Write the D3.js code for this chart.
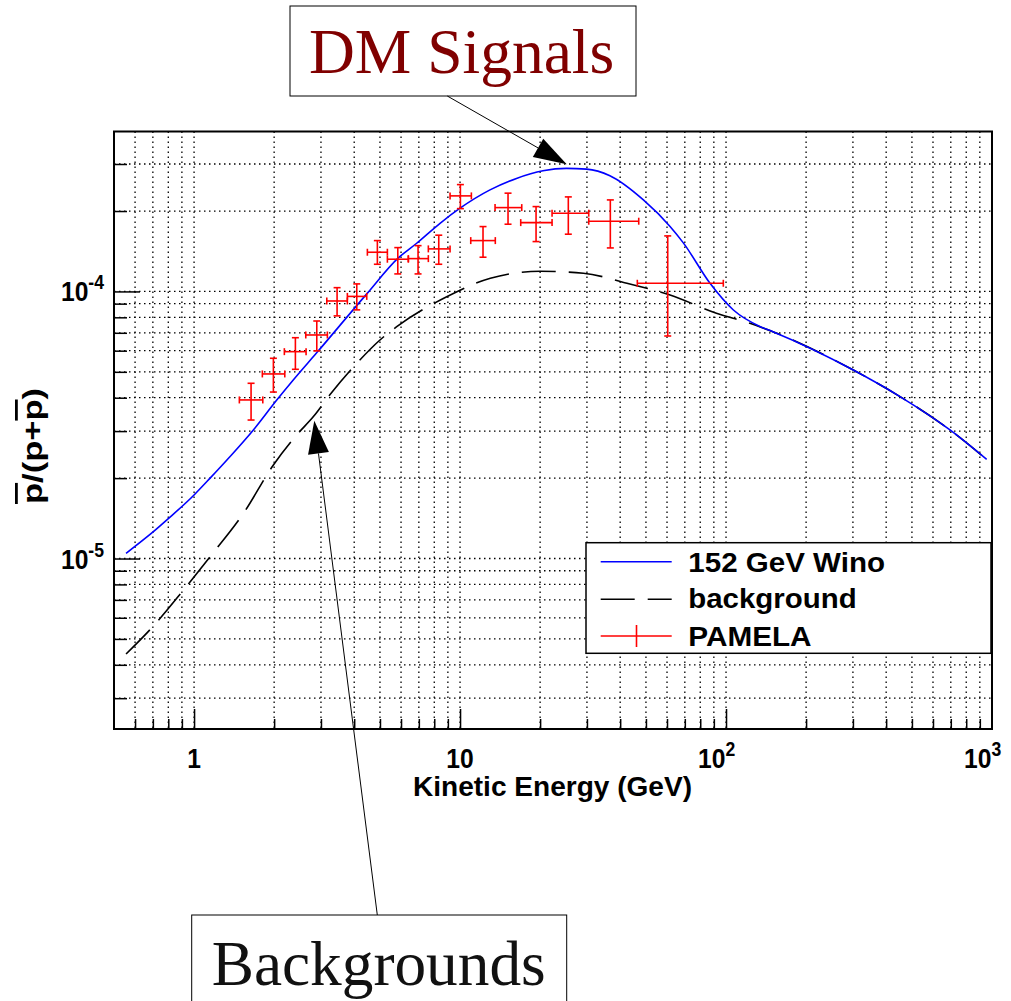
<!DOCTYPE html>
<html><head><meta charset="utf-8">
<script src="https://cdn.jsdelivr.net/npm/d3@7"></script>
<style>html,body{margin:0;padding:0;background:#fff;}svg{display:block;}</style>
</head><body>
<script>
// ---------- data ----------
const winoE = [0.555,0.703,0.80,1.0,1.149,1.366,1.671,2.046,2.36,2.89,4.46,5.86,6.87,8.41,10.0,12.96,16.3,20.5,25.1,29.9,36.6,48.9,61.6,69.1,87.2,106.6,134.6,150,301,451,695,955];
const winoR = [1.046e-5,1.26e-5,1.41e-5,1.73e-5,2.0e-5,2.41e-5,3.03e-5,3.92e-5,4.66e-5,5.89e-5,9.79e-5,1.335e-4,1.515e-4,1.80e-4,2.05e-4,2.40e-4,2.65e-4,2.83e-4,2.89e-4,2.87e-4,2.71e-4,2.20e-4,1.75e-4,1.52e-4,1.07e-4,8.52e-5,7.38e-5,7.07e-5,5.08e-5,4.04e-5,3.03e-5,2.35e-5];
const bgE = [0.555,0.703,0.912,1.149,1.533,1.987,2.43,2.81,3.24,4.09,5.0,5.78,8.91,13.0,20.0,29.1,42.4,61.6,92.0,123,150,301,451,695,955];
const bgR = [4.39e-6,5.59e-6,7.62e-6,1.016e-5,1.476e-5,2.24e-5,2.90e-5,3.40e-5,4.10e-5,5.38e-5,6.58e-5,7.38e-5,9.55e-5,1.12e-4,1.19e-4,1.17e-4,1.073e-4,9.70e-5,8.29e-5,7.60e-5,7.07e-5,5.08e-5,4.04e-5,3.03e-5,2.35e-5];
const pamE   = [1.638,1.987,2.404,2.893,3.449,4.090,4.888,5.833,6.952,8.317,10.03,12.20,15.15,19.31,25.53,36.73,60.37];
const pamELo = [1.480,1.806,2.185,2.630,3.155,3.770,4.483,5.331,6.392,7.600,9.172,10.97,13.54,16.91,22.18,30.47,46.40];
const pamEHi = [1.813,2.193,2.637,3.171,3.770,4.459,5.331,6.392,7.600,9.172,11.03,13.57,17.06,22.18,30.47,46.97,97.68];
const pamR   = [3.924e-5,4.91e-5,5.95e-5,6.87e-5,9.21e-5,9.58e-5,1.402e-4,1.320e-4,1.327e-4,1.443e-4,2.279e-4,1.550e-4,2.060e-4,1.810e-4,1.963e-4,1.832e-4,1.073e-4];
const pamRLo = [3.30e-5,4.20e-5,5.11e-5,5.99e-5,8.10e-5,8.53e-5,1.264e-4,1.163e-4,1.163e-4,1.264e-4,2.042e-4,1.343e-4,1.785e-4,1.537e-4,1.638e-4,1.455e-4,6.81e-5];
const pamRHi = [4.53e-5,5.62e-5,6.71e-5,7.75e-5,1.033e-4,1.067e-4,1.550e-4,1.459e-4,1.484e-4,1.624e-4,2.512e-4,1.749e-4,2.333e-4,2.078e-4,2.259e-4,2.201e-4,1.614e-4];
const xMajorTicks = [1,10,100,1000];
const xTickLabels = ["1","10","10|2","10|3"];
const yMajorTicks = [1e-5,1e-4];
const yTickLabels = ["10|-5","10|-4"];
const legendLabels = ["152 GeV Wino","background","PAMELA"];

// ---------- layout ----------
const W=1011,H=1001, L=114,R=992,T=131.5,B=729;
const svg=d3.select("body").append("svg").attr("width",W).attr("height",H);
svg.append("rect").attr("width",W).attr("height",H).attr("fill","#fff");
const x=d3.scaleLog().domain([0.5,1000]).range([L,R]);
const y=d3.scaleLog().domain([2.3e-6,3.97e-4]).range([B,T]);
const sans="'Liberation Sans', Arial, Helvetica, sans-serif";
const serif="'Liberation Serif', 'Times New Roman', serif";

// grid
const xt=x.ticks().filter(v=>x(v)>L+1&&x(v)<R-1);
const yt=y.ticks().filter(v=>y(v)<B-1&&y(v)>T+1);
const grid=svg.append("g").attr("stroke","#000").attr("stroke-width",1.3).attr("stroke-dasharray","1.5,3.5");
grid.selectAll(".gx").data(xt).join("line").attr("x1",d=>x(d)).attr("x2",d=>x(d)).attr("y1",T).attr("y2",B);
grid.selectAll(".gy").data(yt).join("line").attr("y1",d=>y(d)).attr("y2",d=>y(d)).attr("x1",L).attr("x2",R);

// axes ticks (inside)
const isMajor=v=>Math.abs(Math.log10(v)-Math.round(Math.log10(v)))<1e-6;
const xMinor=xt.filter(v=>!isMajor(v)), yMinor=yt.filter(v=>!isMajor(v));
function axisG(axis,tr){const g=svg.append("g").attr("transform",tr).call(axis);g.select(".domain").remove();g.selectAll("text").remove();g.selectAll("line").attr("stroke","#000").attr("stroke-width",1.5);return g;}
axisG(d3.axisBottom(x).tickValues(xMinor).tickSizeInner(-10).tickSizeOuter(0),`translate(0,${B})`);
axisG(d3.axisBottom(x).tickValues(xMajorTicks.filter(v=>x(v)<R-1)).tickSizeInner(-20).tickSizeOuter(0),`translate(0,${B})`);
axisG(d3.axisLeft(y).tickValues(yMinor).tickSizeInner(-13).tickSizeOuter(0),`translate(${L},0)`);
axisG(d3.axisLeft(y).tickValues(yMajorTicks).tickSizeInner(-26).tickSizeOuter(0),`translate(${L},0)`);

// curves
const line=d3.line().x(d=>x(d[0])).y(d=>y(d[1])).curve(d3.curveMonotoneX);
svg.append("path").attr("d",line(bgE.map((e,i)=>[e,bgR[i]]))).attr("fill","none").attr("stroke","#000").attr("stroke-width",1.6).attr("stroke-dasharray","34,13");
svg.append("path").attr("d",line(winoE.map((e,i)=>[e,winoR[i]]))).attr("fill","none").attr("stroke","#0000ff").attr("stroke-width",1.6);

// PAMELA points
const pts=svg.append("g").attr("stroke","#ff0000").attr("stroke-width",1.6).attr("fill","none");
const cap=3.5;
pamE.forEach((e,i)=>{
  const cx=x(e),cy=y(pamR[i]),x1=x(pamELo[i]),x2=x(pamEHi[i]),y1=y(pamRLo[i]),y2=y(pamRHi[i]);
  pts.append("line").attr("x1",x1).attr("x2",x2).attr("y1",cy).attr("y2",cy);
  pts.append("line").attr("x1",cx).attr("x2",cx).attr("y1",y1).attr("y2",y2);
  pts.append("line").attr("x1",x1).attr("x2",x1).attr("y1",cy-cap).attr("y2",cy+cap);
  pts.append("line").attr("x1",x2).attr("x2",x2).attr("y1",cy-cap).attr("y2",cy+cap);
  pts.append("line").attr("x1",cx-cap).attr("x2",cx+cap).attr("y1",y1).attr("y2",y1);
  pts.append("line").attr("x1",cx-cap).attr("x2",cx+cap).attr("y1",y2).attr("y2",y2);
});

// frame
svg.append("rect").attr("x",L).attr("y",T).attr("width",R-L).attr("height",B-T).attr("fill","none").attr("stroke","#000").attr("stroke-width",2);

// tick labels (condensed bold, like ROOT Helvetica)
const SX=0.88;
function supLabel(str,xx,yy,anchor){
  const parts=str.split("|");
  const g=svg.append("g").attr("transform",`translate(${xx},${yy}) scale(${SX},1)`);
  const t=g.append("text").attr("x",0).attr("y",0).attr("text-anchor",anchor).attr("font-family",sans).attr("font-weight","bold").attr("font-size",28).attr("fill","#000");
  t.append("tspan").text(parts[0]);
  if(parts[1]!==undefined) t.append("tspan").attr("dy",-12).attr("font-size",20).text(parts[1]);
  return t;
}
xMajorTicks.forEach((v,i)=>{
  const s=xTickLabels[i];
  if(s.includes("|")) supLabel(s,x(v)-28,768,"start");
  else supLabel(s,x(v),768,"middle");
});
yMajorTicks.forEach((v,i)=>supLabel(yTickLabels[i],104,y(v)+10,"end"));

// axis titles
svg.append("text").attr("x",413).attr("y",796).attr("font-family",sans).attr("font-weight","bold").attr("font-size",27)
  .attr("textLength",279).attr("lengthAdjust","spacingAndGlyphs").text("Kinetic Energy (GeV)");
const yt2=svg.append("text").attr("transform","translate(42,446) rotate(-90)").attr("text-anchor","middle").attr("font-family",sans).attr("font-weight","bold").attr("font-size",28)
  .attr("textLength",116).attr("lengthAdjust","spacingAndGlyphs");
yt2.append("tspan").attr("text-decoration","overline").text("p");
yt2.append("tspan").text("/(p+");
yt2.append("tspan").attr("text-decoration","overline").text("p");
yt2.append("tspan").text(")");

// legend
const lg=svg.append("g");
lg.append("rect").attr("x",586).attr("y",542.7).attr("width",405).attr("height",110.6).attr("fill","#fff").attr("stroke","#000").attr("stroke-width",1.5);
const rowsY=[561.7,599.3,636];
const baseY=[572,607.5,645.5];
const lens=[196.7,168.3,123.3];
lg.append("line").attr("x1",600.7).attr("x2",671.7).attr("y1",rowsY[0]).attr("y2",rowsY[0]).attr("stroke","#0000ff").attr("stroke-width",1.6);
lg.append("line").attr("x1",600.7).attr("x2",671.7).attr("y1",rowsY[1]).attr("y2",rowsY[1]).attr("stroke","#000").attr("stroke-width",1.6).attr("stroke-dasharray","34,13");
lg.append("line").attr("x1",600.7).attr("x2",671.7).attr("y1",rowsY[2]).attr("y2",rowsY[2]).attr("stroke","#ff0000").attr("stroke-width",1.6);
lg.append("line").attr("x1",636.5).attr("x2",636.5).attr("y1",rowsY[2]-11).attr("y2",rowsY[2]+11).attr("stroke","#ff0000").attr("stroke-width",1.6);
legendLabels.forEach((s,i)=>lg.append("text").attr("x",688.3).attr("y",baseY[i]).attr("font-family",sans).attr("font-weight","bold").attr("font-size",27.5)
  .attr("textLength",lens[i]).attr("lengthAdjust","spacingAndGlyphs").text(s));

// annotations
function arrow(x0,y0,x1,y1){
  const dx=x1-x0,dy=y1-y0,len=Math.hypot(dx,dy),ux=dx/len,uy=dy/len,hl=33,hw=10.5;
  const bx=x1-ux*hl,by=y1-uy*hl;
  svg.append("line").attr("x1",x0).attr("y1",y0).attr("x2",bx).attr("y2",by).attr("stroke","#000").attr("stroke-width",1);
  svg.append("polygon").attr("points",`${x1},${y1} ${bx-uy*hw},${by+ux*hw} ${bx+uy*hw},${by-ux*hw}`).attr("fill","#000");
}
svg.append("rect").attr("x",290).attr("y",6).attr("width",346).attr("height",90).attr("fill","#fff").attr("stroke","#000").attr("stroke-width",1);
svg.append("text").attr("x",309).attr("y",72.7).attr("font-family",serif).attr("font-size",63.5).attr("fill","#800000").text("DM Signals");
arrow(447.3,96,566.7,164.3);
svg.append("rect").attr("x",191.7).attr("y",915).attr("width",375).attr("height",100).attr("fill","#fff").attr("stroke","#000").attr("stroke-width",1);
svg.append("text").attr("x",211.7).attr("y",985).attr("font-family",serif).attr("font-size",63.3).attr("fill","#111").text("Backgrounds");
arrow(377.3,915,314.3,420.7);
</script>
</body></html>
